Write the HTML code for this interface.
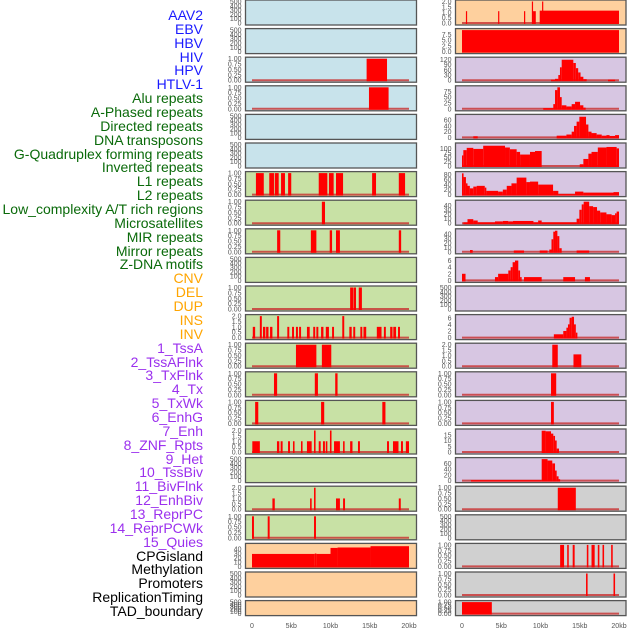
<!DOCTYPE html>
<html><head><meta charset="utf-8"><style>
html,body{margin:0;padding:0;background:#fff;}
#wrap{position:relative;width:630px;height:630px;overflow:hidden;}
.lab{position:absolute;right:427px;font-family:"Liberation Sans",sans-serif;font-size:14px;line-height:14px;white-space:nowrap;}
svg{position:absolute;left:0;top:0;}
</style></head><body>
<div id="wrap">
<svg id="chart" width="630" height="630"></svg>
</div>
<script>
// ---------- data ----------
const trackLabels = ["AAV2","EBV","HBV","HIV","HPV","HTLV-1","Alu repeats","A-Phased repeats","Directed repeats","DNA transposons","G-Quadruplex forming repeats","Inverted repeats","L1 repeats","L2 repeats","Low_complexity A/T rich regions","Microsatellites","MIR repeats","Mirror repeats","Z-DNA motifs","CNV","DEL","DUP","INS","INV","1_TssA","2_TssAFlnk","3_TxFlnk","4_Tx","5_TxWk","6_EnhG","7_Enh","8_ZNF_Rpts","9_Het","10_TssBiv","11_BivFlnk","12_EnhBiv","13_ReprPC","14_ReprPCWk","15_Quies","CPGisland","Methylation","Promoters","ReplicationTiming","TAD_boundary"];
const labelColors = {blue:"#1a1aff",green:"#0a6a0a",orange:"#ffa500",purple:"#9b30ee",black:"#000"};
const labelGroups = ["blue","blue","blue","blue","blue","blue","green","green","green","green","green","green","green","green","green","green","green","green","green","orange","orange","orange","orange","orange","purple","purple","purple","purple","purple","purple","purple","purple","purple","purple","purple","purple","purple","purple","purple","black","black","black","black","black"];
const xTickValues = [0,5,10,15,20];
const xTickLabels = ["0","5kb","10kb","15kb","20kb"];
const ticksEmpty = ["0","100","200","300","400","500"];
const ticksBin = ["0.00","0.25","0.50","0.75","1.00"];
const ticks2 = ["0.0","0.5","1.0","1.5","2.0"];

// segments: [startKb, endKb, value]
const L1 = [], L2 = [], L5 = [], L6 = [], L10 = [], L17 = [], L21 = [], L22 = [];
const L3 = [[14.6,17.2,1]];
const L4 = [[14.9,17.4,1]];
const L7 = [[0.5,1.5,1],[2.2,2.8,1],[2.9,3.4,1],[3.7,4.2,1],[4.6,5.0,1],[8.5,9.6,1],[9.8,10.4,1],[10.7,11.6,1],[15.3,15.8,1],[18.7,19.5,1]];
const L8 = [[8.9,9.3,1]];
const L9 = [[3.2,3.6,1],[7.5,8.2,1],[9.9,10.2,1],[10.7,11.2,1],[18.7,19.0,1]];
const L11 = [[12.5,12.9,1],[12.95,13.25,1],[13.6,14.0,1]];
const L12 = [[0.1,0.4,1],[1.0,1.25,2],[1.4,1.7,1],[1.8,2.1,1],[2.3,2.6,1],[3.2,3.45,2],[4.5,4.75,1],[5.1,5.35,1],[5.6,5.85,1],[6.0,6.25,1],[7.0,7.35,1],[7.8,8.05,1],[8.2,8.45,1],[8.8,9.1,1],[9.4,9.8,1],[10.2,10.45,1],[11.5,11.75,2],[12.4,12.7,1],[12.9,13.15,1],[13.8,14.05,1],[14.2,14.55,1],[15.9,16.5,1],[16.8,17.05,1],[17.6,17.9,1],[18.0,18.35,1],[18.6,18.85,1]];
const L13 = [[5.6,8.2,1],[8.9,10.1,1]];
const L14 = [[2.8,3.2,1],[8.0,8.4,1],[10.6,10.9,1]];
const L15 = [[0.4,0.8,1],[8.8,9.2,1],[16.6,17.0,1]];
const L16 = [[0.04,1.0,1],[3.18,3.48,1],[3.65,3.9,1],[4.59,4.84,1],[5.22,5.42,1],[6.24,6.44,1],[7.0,7.6,1],[7.9,8.1,2],[8.5,8.75,1],[9.04,9.29,1],[9.4,9.6,1],[9.93,10.13,2],[10.45,11.2,1],[11.6,11.8,1],[12.5,12.8,1],[13.5,13.75,1],[17.2,17.45,1],[17.96,18.66,1],[18.98,19.23,1],[19.6,20.0,1]];
const L18 = [[2.6,2.9,1],[7.4,7.6,1],[7.9,8.1,2],[10.7,11.2,1],[11.6,11.85,1],[18.7,18.95,1]];
const L19 = [[0,0.25,1],[2.0,2.25,1],[7.9,8.15,1]];
const L20 = [[0,8.0,29],[8.0,8.2,30],[8.2,10.0,29],[10.0,10.9,43],[10.9,15.1,44],[15.1,20.0,47]];

const R1 = [[0.5,0.65,1.1],[4.6,4.75,1.1],[7.9,8.05,1.1],[8.9,9.05,2],[9.05,9.4,1.1],[9.9,20.0,1.15],[10.2,10.35,2]];
const R2 = [[0,20,9.3]];
const R3 = [[11.34,11.85,3],[11.85,12.27,8],[12.27,12.48,30],[12.48,12.7,75],[12.7,14.18,119],[14.18,14.5,100],[14.5,14.8,70],[14.8,15.1,45],[15.1,15.46,20],[15.46,15.88,6],[18.6,19.5,3]];
const R4 = [[10.35,11.63,3],[11.63,11.85,20],[11.85,12.15,80],[12.15,12.48,92],[12.48,12.7,50],[12.7,13.3,15],[13.3,13.97,10],[13.97,14.4,20],[14.4,15.04,30],[15.04,15.46,15],[15.46,15.75,5]];
const R5 = [[1.44,2.0,4],[12.06,13.3,6],[13.3,13.97,10],[13.97,14.27,20],[14.27,14.6,40],[14.6,14.95,55],[14.95,15.8,72],[15.8,16.1,45],[16.1,16.5,20],[16.5,17.15,15],[17.15,17.8,10],[17.8,18.4,6],[18.4,18.8,8],[18.8,19.5,5],[19.5,20.0,8]];
const R6 = [[0,0.17,60],[0.17,0.6,90],[0.6,1.44,103],[1.44,2.7,97],[2.7,5.48,115],[5.48,6.1,105],[6.1,6.96,95],[6.96,7.4,80],[7.4,8.66,65],[8.66,9.3,80],[9.3,10.15,85],[15.0,15.46,10],[15.46,16.1,40],[16.1,16.5,70],[16.5,17.3,80],[17.3,18.4,105],[18.4,19.7,108],[19.7,20.0,100]];
const R7 = [[0,0.2,85],[0.2,0.5,70],[0.5,0.7,45],[0.7,1.0,35],[1.0,1.44,25],[1.44,1.87,32],[1.87,2.9,35],[2.9,3.1,28],[3.1,4.6,15],[4.6,5.2,12],[5.2,5.7,20],[5.7,6.3,35],[6.3,6.96,45],[6.96,8.2,68],[8.2,8.66,50],[8.66,9.7,52],[9.7,11.6,40],[11.6,12.27,15],[12.27,14.4,2],[14.4,15.46,12],[15.46,19.3,8],[19.3,20.0,10]];
const R8 = [[0.17,0.7,2],[0.7,1.44,9],[1.44,2.0,6],[2.0,4.2,2],[4.2,5.2,4],[5.2,5.9,5],[5.9,6.5,4],[6.5,9.1,5],[9.1,9.7,2],[9.7,10.15,6],[10.15,14.6,2],[14.6,14.95,10],[14.95,15.25,30],[15.25,15.5,42],[15.5,16.2,48],[16.2,16.7,38],[16.7,17.2,36],[17.2,17.6,28],[17.6,18.4,24],[18.4,19.06,20],[19.06,19.5,18],[19.5,19.7,22],[19.7,20.0,26]];
const R9 = [[1.02,1.36,4],[6.6,7.9,3],[9.9,10.9,3],[11.12,11.4,5],[11.4,11.63,28],[11.63,11.85,45],[11.85,12.15,47],[12.15,12.4,35],[12.4,12.7,8],[14.6,16.2,3]];
const R10 = [[0,0.45,2],[4.2,4.6,1],[4.6,5.9,2],[5.9,6.2,3],[6.2,6.45,4],[6.45,6.75,5.5],[6.75,7.17,6],[7.17,7.4,3],[7.4,7.6,1],[7.9,10.15,1],[12.9,14.4,1],[15.66,16.3,1]];
const R11 = [];
const R12 = [[11.7,12.9,1],[12.9,13.3,2],[13.3,13.5,3],[13.5,13.7,4],[13.7,13.97,6],[13.97,14.27,6.3],[14.27,14.5,4],[14.5,14.7,1.5]];
const R13 = [[11.5,12.2,2],[14.2,15.2,1.1]];
const R14 = [[11.34,12.0,1]];
const R15 = [[11.34,11.7,1]];
const R16 = [[10.15,10.65,18.5],[10.65,11.34,18],[11.34,11.63,16],[11.63,11.85,14],[11.85,12.06,10],[12.06,12.36,3]];
const R17 = [[1.15,10.15,1.5],[10.15,10.9,75],[10.9,11.5,70],[11.5,11.85,60],[11.85,12.06,35],[12.06,12.3,15],[12.3,12.5,5]];
const R18 = [[12.2,14.5,1]];
const R19 = [];
const R20 = [[12.5,13.0,1],[13.4,13.6,1],[14.1,14.35,1],[15.9,16.1,1],[16.5,16.9,1],[17.3,17.5,1],[17.9,18.1,1],[19.0,19.2,1]];
const R21 = [[15.8,16.0,1],[19.3,19.5,1]];
const R22 = [[0,3.8,1]];

// ---------- panel configs ----------
const BG = {blue:"#c8e3eb",green:"#c8e1a5",orange:"#fed09e",purple:"#d7c6e2",gray:"#d0d0d0"};
const leftBg = ["blue","blue","blue","blue","blue","blue","green","green","green","green","green","green","green","green","green","green","green","green","green","orange","orange","orange"];
const rightBg = ["orange","orange","purple","purple","purple","purple","purple","purple","purple","purple","purple","purple","purple","purple","purple","purple","purple","gray","gray","gray","gray","gray"];
const leftData = [L1,L2,L3,L4,L5,L6,L7,L8,L9,L10,L11,L12,L13,L14,L15,L16,L17,L18,L19,L20,L21,L22];
const rightData = [R1,R2,R3,R4,R5,R6,R7,R8,R9,R10,R11,R12,R13,R14,R15,R16,R17,R18,R19,R20,R21,R22];
const leftMax = [500,500,1,1,500,500,1,1,1,500,1,2,1,1,1,2,500,2,1,50,500,500];
const rightMax = [2,9.3,125,92,75,122,86,48,48,6.5,500,6.5,2,1,1,18.7,75,1,500,1,1,1];
const leftTicks = [ticksEmpty,ticksEmpty,ticksBin,ticksBin,ticksEmpty,ticksEmpty,ticksBin,ticksBin,ticksBin,ticksEmpty,ticksBin,ticks2,ticksBin,ticksBin,ticksBin,ticks2,ticksEmpty,ticks2,ticksBin,["0","10","20","30","40"],ticksEmpty,ticksEmpty];
const rightTicks = [ticks2,["0.0","2.5","5.0","7.5"],["0","30","60","90","120"],["0","25","50","75"],["0","20","40","60"],["0","25","50","75","100"],["0","20","40","60","80"],["0","10","20","30","40"],["0","10","20","30","40"],["0","2","4","6"],ticksEmpty,["0","2","4","6"],ticks2,ticksBin,ticksBin,["0","5","10","15"],["0","20","40","60"],ticksBin,ticksEmpty,ticksBin,ticksBin,ticksBin];

// ---------- drawing ----------
const NS = "http://www.w3.org/2000/svg";
const svg = document.getElementById("chart");
const wrap = document.getElementById("wrap");
function mk(tag, attrs, parent){const e=document.createElementNS(NS,tag);for(const k in attrs)e.setAttribute(k,attrs[k]);(parent||svg).appendChild(e);return e;}

// labels
trackLabels.forEach((t,i)=>{
  const d=document.createElement("div");
  d.className="lab";
  d.textContent=t;
  d.style.top=(8+i*13.86)+"px";
  d.style.color=labelColors[labelGroups[i]];
  
  
  wrap.appendChild(d);
});

const cols=[{x0:245.5,x1:416.5,d0:252,data:leftData,bg:leftBg,max:leftMax,ticks:leftTicks,side:"left"},
            {x0:455.5,x1:626,d0:462,data:rightData,bg:rightBg,max:rightMax,ticks:rightTicks,side:"right"}];
const kbPx=7.85;
cols.forEach(c=>{
  const xs=kb=>c.d0+kb*kbPx;
  for(let i=0;i<22;i++){
    const top=i*28.6;
    const h=(i===21)?15:25;
    const g=mk("g",{});
    
    
    mk("rect",{x:c.x0,y:top,width:c.x1-c.x0,height:h,fill:BG[c.bg[i]]},g);
    const y0=top+h-2, y1=top+1.5;
    const ys=v=>y0-(v/c.max[i])*(y0-y1);
    const segs=c.data[i];
    if(segs.length){
      const bl=mk("line",{x1:xs(0),x2:xs(20),y1:y0,y2:y0,stroke:"#c83030","stroke-width":2,"stroke-opacity":0.8},g);
      
      
    }
    segs.forEach(s=>{
      const r=mk("rect",{x:xs(s[0]),y:ys(s[2]),width:Math.max(1.2,xs(s[1])-xs(s[0])),height:y0+1-ys(s[2]),fill:"#ff0000"},g);
      
      
    });
    mk("rect",{x:c.x0,y:top,width:c.x1-c.x0,height:h,fill:"none",stroke:"#555","stroke-width":1.3},g);
    // y ticks
    const tk=c.ticks[i];
    const step = c.max[i]===500?100:null;
    tk.forEach((t,j)=>{
      const v=parseFloat(t);
      const tx=mk("text",{x:c.x0-4,y:ys(v)+2.5,"text-anchor":"end","font-family":"Liberation Sans, sans-serif","font-size":7,fill:"#555"},g);
      tx.textContent=t;
      
      
    });
  }
  xTickValues.forEach((v,j)=>{
    const t=mk("text",{x:xs(v),y:628,"text-anchor":"middle","font-family":"Liberation Sans, sans-serif","font-size":7,fill:"#555"});
    t.textContent=xTickLabels[j];
    
    
  });
});
</script>
</body></html>
